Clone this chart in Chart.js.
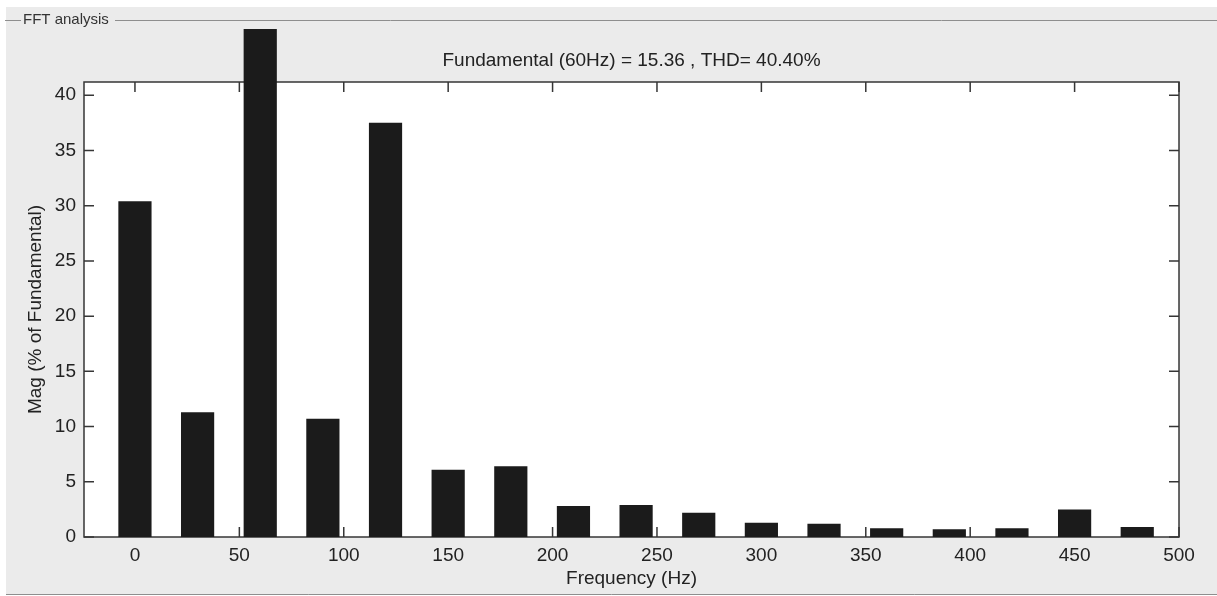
<!DOCTYPE html>
<html>
<head>
<meta charset="utf-8">
<title>FFT analysis</title>
<script src="https://cdn.jsdelivr.net/npm/chart.js@4.4.1/dist/chart.umd.min.js"></script>
<style>
    html, body {
        margin: 0;
        padding: 0;
        background: #ffffff;
    }

    #wrap {
        width: 1217px;
        height: 596px;
    }
</style>
</head>
<body>
<div id="wrap">
    <canvas id="fftChart" width="1217" height="596"></canvas>
</div>
<script>
// ======================
// DATA
// ======================
const frequencies = [0, 30, 60, 90, 120, 150, 180, 210, 240, 270, 300, 330, 360, 390, 420, 450, 480];
const magnitudes = [30.4, 11.3, 46.0, 10.7, 37.5, 6.1, 6.4, 2.8, 2.9, 2.2, 1.3, 1.2, 0.8, 0.7, 0.8, 2.5, 0.9];
const xTicks = [0, 50, 100, 150, 200, 250, 300, 350, 400, 450, 500];
const yTicks = [0, 5, 10, 15, 20, 25, 30, 35, 40];

const titleText = "Fundamental (60Hz) = 15.36 , THD= 40.40%";
const panelText = "FFT analysis";

const textColor = "#222222";
const fontFamily = "'Liberation Sans', Arial, sans-serif";

// ======================
// PANEL + AXES BOX
// ======================
const matlabFrame = {
    id: "matlabFrame",

    beforeDraw(chart) {
        const ctx = chart.ctx;
        const w = chart.width;
        const h = chart.height;
        const a = chart.chartArea;

        ctx.save();

        ctx.fillStyle = "#ffffff";
        ctx.fillRect(0, 0, w, h);

        ctx.fillStyle = "#ebebeb";
        ctx.fillRect(6, 7, w - 6, h - 8);

        // group box line with its label
        ctx.strokeStyle = "#8e8e8e";
        ctx.lineWidth = 1;
        ctx.beginPath();
        ctx.moveTo(5, 20.5);
        ctx.lineTo(21, 20.5);
        ctx.moveTo(115, 20.5);
        ctx.lineTo(w, 20.5);
        ctx.moveTo(6, h - 1.5);
        ctx.lineTo(w, h - 1.5);
        ctx.stroke();

        ctx.fillStyle = "#333333";
        ctx.font = "15px " + fontFamily;
        ctx.textBaseline = "middle";
        ctx.textAlign = "left";
        ctx.fillText(panelText, 23, 20);

        // title, centred over the axes like matlab does
        ctx.fillStyle = textColor;
        ctx.font = "19px " + fontFamily;
        ctx.textAlign = "center";
        ctx.fillText(titleText, (a.left + a.right) / 2, 61);

        ctx.fillStyle = "#ffffff";
        ctx.fillRect(a.left, a.top, a.right - a.left, a.bottom - a.top);

        ctx.restore();
    },

    beforeDatasetsDraw(chart) {
        const ctx = chart.ctx;
        const a = chart.chartArea;
        const x = chart.scales.x;
        const y = chart.scales.y;
        const len = 10;

        ctx.save();
        ctx.strokeStyle = "#363636";
        ctx.lineWidth = 1.5;

        ctx.strokeRect(a.left, a.top, a.right - a.left, a.bottom - a.top);

        ctx.beginPath();

        xTicks.forEach(v => {
            const px = x.getPixelForValue(v);
            ctx.moveTo(px, a.bottom);
            ctx.lineTo(px, a.bottom - len);
            ctx.moveTo(px, a.top);
            ctx.lineTo(px, a.top + len);
        });

        yTicks.forEach(v => {
            const py = y.getPixelForValue(v);
            ctx.moveTo(a.left, py);
            ctx.lineTo(a.left + len, py);
            ctx.moveTo(a.right, py);
            ctx.lineTo(a.right - len, py);
        });

        ctx.stroke();
        ctx.restore();
    }
};

// ======================
// CHART
// ======================
new Chart(
    document.getElementById("fftChart"),
    {
        type: "bar",

        data: {
            datasets: [{
                data: frequencies.map((f, i) => ({ x: f, y: magnitudes[i] })),
                backgroundColor: "#1b1b1b",
                borderWidth: 0,
                barPercentage: 0.53,
                categoryPercentage: 1,
                clip: false
            }]
        },

        options: {
            responsive: false,
            animation: false,

            layout: {
                padding: {
                    left: 0,
                    right: 38,
                    top: 82,
                    bottom: 0
                }
            },

            plugins: {
                legend: {
                    display: false
                },
                tooltip: {
                    enabled: false
                },
                title: {
                    display: false
                }
            },

            scales: {
                x: {
                    type: "linear",
                    offset: false,
                    min: -24.4,
                    max: 500,
                    afterBuildTicks: scale => {
                        scale.ticks = xTicks.map(v => ({ value: v }));
                    },
                    afterFit: scale => {
                        scale.height = 59;
                    },
                    grid: {
                        display: false,
                        drawTicks: false
                    },
                    border: {
                        display: false
                    },
                    ticks: {
                        color: textColor,
                        padding: 7,
                        maxRotation: 0,
                        font: {
                            family: fontFamily,
                            size: 19
                        }
                    },
                    title: {
                        display: true,
                        text: "Frequency (Hz)",
                        color: textColor,
                        padding: {
                            top: 0,
                            bottom: 5.6
                        },
                        font: {
                            family: fontFamily,
                            size: 19,
                            lineHeight: 1.2
                        }
                    }
                },

                y: {
                    min: 0,
                    max: 41.2,
                    afterBuildTicks: scale => {
                        scale.ticks = yTicks.map(v => ({ value: v }));
                    },
                    afterFit: scale => {
                        scale.width = 84;
                    },
                    grid: {
                        display: false,
                        drawTicks: false
                    },
                    border: {
                        display: false
                    },
                    ticks: {
                        color: textColor,
                        padding: 8,
                        font: {
                            family: fontFamily,
                            size: 19
                        }
                    },
                    title: {
                        display: true,
                        text: "Mag (% of Fundamental)",
                        color: textColor,
                        padding: {
                            top: 24.6,
                            bottom: 0
                        },
                        font: {
                            family: fontFamily,
                            size: 19,
                            lineHeight: 1.2
                        }
                    }
                }
            }
        },

        plugins: [matlabFrame]
    }
);
</script>
</body>
</html>
